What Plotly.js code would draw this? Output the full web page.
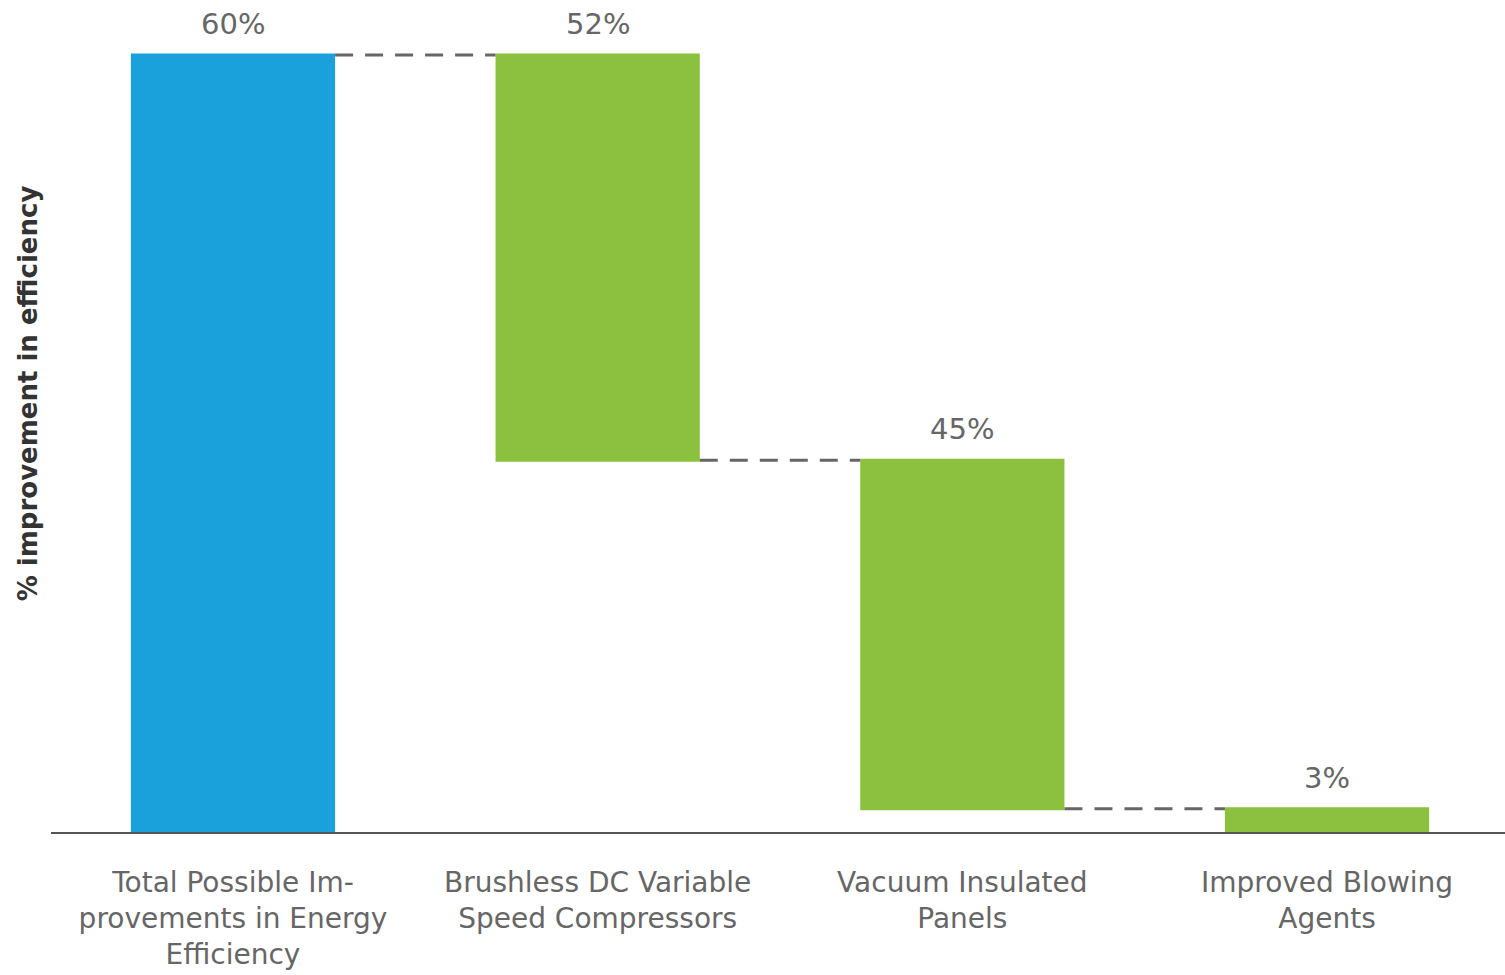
<!DOCTYPE html>
<html>
<head>
<meta charset="utf-8">
<script src="https://cdn.plot.ly/plotly-3.0.1.min.js"></script>
<style>html,body{margin:0;padding:0;background:#fff;}#chart{width:1505px;height:975px;}</style>
</head>
<body>
<div id="chart"></div>
<script>
const categories = ["Total Possible Improvements in Energy Efficiency", "Brushless DC Variable Speed Compressors", "Vacuum Insulated Panels", "Improved Blowing Agents"];
const tickLabels = ["Total Possible Im-<br>provements in Energy<br>Efficiency", "Brushless DC Variable<br>Speed Compressors", "Vacuum Insulated<br>Panels", "Improved Blowing<br>Agents"];
const measures = ["absolute", "relative", "relative", "relative"];
const values = [60, -31.3, -26.9, -1.8];
const valueLabels = ["60%", "52%", "45%", "3%"];

// bar tops from running totals
const tops = [];
let run = 0;
values.forEach((v, i) => {
  const start = measures[i] === "absolute" ? 0 : run;
  const end = measures[i] === "absolute" ? v : run + v;
  tops.push(Math.max(start, end));
  run = end;
});

const trace = {
  type: "waterfall",
  x: categories,
  y: values,
  measure: measures,
  width: 0.56,
  textinfo: "none",
  hoverinfo: "none",
  totals: {marker: {color: "#1aa0db"}},
  decreasing: {marker: {color: "#8cc03f"}},
  increasing: {marker: {color: "#8cc03f"}},
  connector: {mode: "between", line: {color: "#666666", width: 3, dash: "18px,12px"}}
};

const annotations = categories.map((c, i) => ({
  x: c, y: tops[i], xref: "x", yref: "y",
  text: valueLabels[i], showarrow: false,
  yanchor: "bottom", yshift: 12,
  font: {family: "DejaVu Sans, Arial, sans-serif", size: 29, color: "#666666"}
}));
annotations.push({
  x: -0.0158, y: 0.554, xref: "paper", yref: "paper",
  xanchor: "center", yanchor: "middle",
  text: "<b>% improvement in efficiency</b>", textangle: -90, showarrow: false,
  font: {family: "DejaVu Sans, Arial, sans-serif", size: 26, color: "#333333"}
});

const layout = {
  width: 1505, height: 975,
  margin: {l: 51, r: 0, t: 40, b: 143},
  paper_bgcolor: "#ffffff", plot_bgcolor: "#ffffff",
  showlegend: false,
  xaxis: {
    type: "category",
    tickvals: categories, ticktext: tickLabels,
    showline: true, linecolor: "#555555", linewidth: 2,
    showgrid: false, zeroline: false,
    ticks: "", ticklabelstandoff: 24,
    tickfont: {family: "DejaVu Sans, Arial, sans-serif", size: 28, color: "#666666"},
    range: [-0.499, 3.488]
  },
  yaxis: {
    range: [0, 61.16], visible: false, showgrid: false, zeroline: false
  },
  annotations: annotations
};

Plotly.newPlot("chart", [trace], layout, {displayModeBar: false, staticPlot: true});
</script>
</body>
</html>
